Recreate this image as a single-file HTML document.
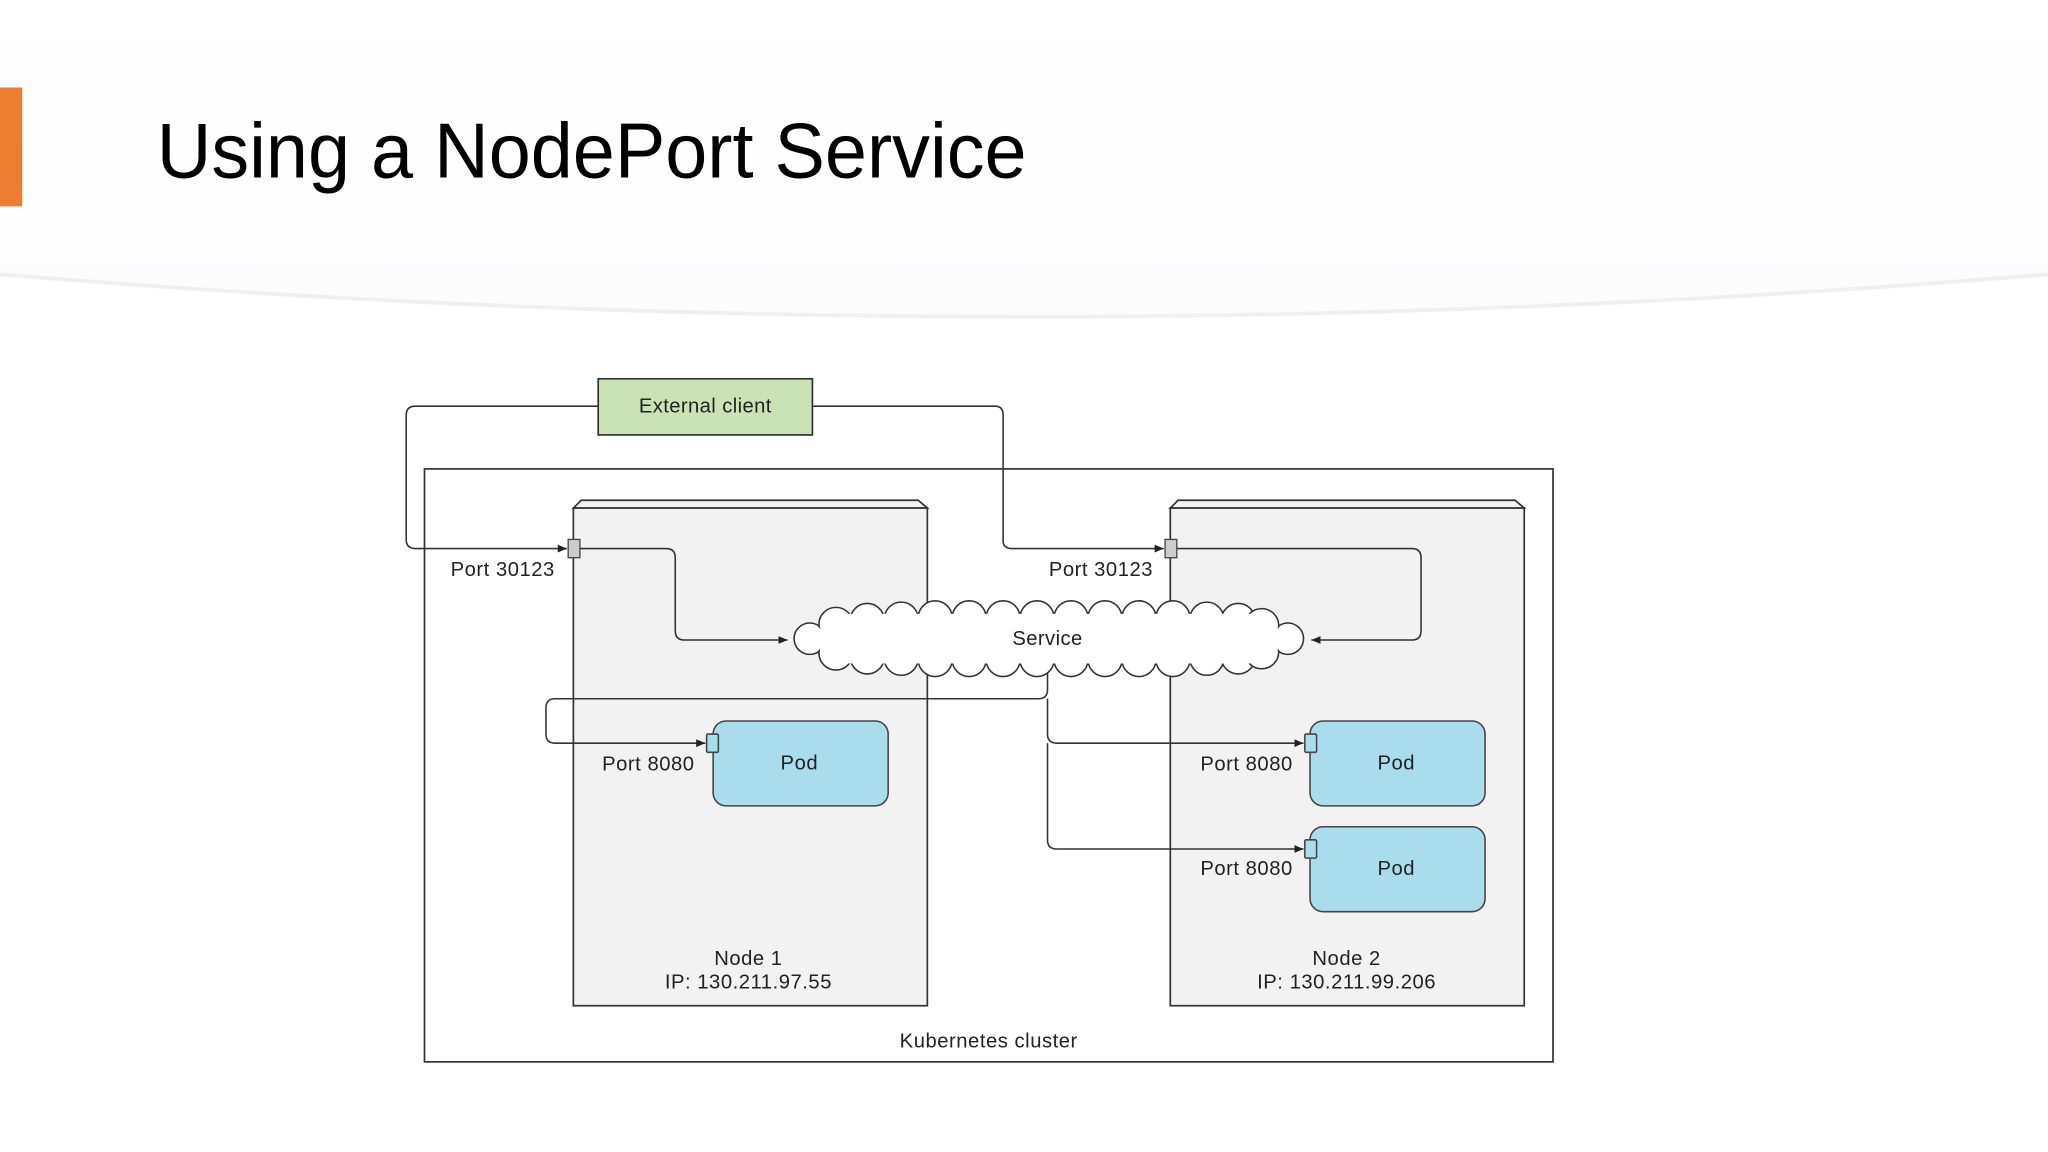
<!DOCTYPE html>
<html><head><meta charset="utf-8"><style>html,body{margin:0;padding:0;background:#fff}svg{display:block}</style></head>
<body>
<svg width="2048" height="1152" viewBox="0 0 1568 882" xmlns="http://www.w3.org/2000/svg" font-family="Liberation Sans, sans-serif">
<defs>
<marker id="a" markerWidth="8" markerHeight="8" refX="7" refY="3" orient="auto" markerUnits="userSpaceOnUse"><path d="M0,0 L7,3 L0,6 z" fill="#222"/></marker>
<linearGradient id="g" x1="0" y1="0" x2="0" y2="1"><stop offset="0" stop-color="#ffffff"/><stop offset="1" stop-color="#fcfcfd"/></linearGradient>
</defs>
<rect width="1568" height="882" fill="#fff"/>
<path d="M0,0 H1568 V210 Q784,275 0,210 Z" fill="url(#g)"/>
<path d="M0,210 Q784,275 1568,210" fill="none" stroke="#f0f0f2" stroke-width="3"/>
<rect x="0" y="67" width="17" height="91" fill="#ED7D31"/>
<text x="120" y="136" font-size="60" textLength="666" lengthAdjust="spacingAndGlyphs" fill="#000">Using a NodePort Service</text>

<rect x="325" y="359" width="864" height="454" fill="#fff" stroke="#333" stroke-width="1.3"/>
<g fill="#f2f2f3" stroke="#333" stroke-width="1.3">
<path d="M439,389 L445,383 L703,383 L710,389 Z"/>
<rect x="439" y="389" width="271" height="381"/>
<path d="M896,389 L902,383 L1160,383 L1167,389 Z"/>
<rect x="896" y="389" width="271" height="381"/>
</g>
<rect x="458" y="290" width="164" height="43" fill="#c9e3b6" stroke="#333" stroke-width="1.3"/>
<text x="540" y="316" font-size="15.5" text-anchor="middle" fill="#222" letter-spacing="0.3">External client</text>

<g fill="none" stroke="#333" stroke-width="1.2">
<path d="M458,311 H318 Q311,311 311,318 V413 Q311,420 318,420 H434" marker-end="url(#a)"/>
<path d="M622,311 H762 Q768,311 768,318 V414 Q768,420 775,420 H891" marker-end="url(#a)"/>
<path d="M444,420 H510 Q517,420 517,427 V483 Q517,490 524,490 H603" marker-end="url(#a)"/>
<path d="M901,420 H1081 Q1088,420 1088,427 V483 Q1088,490 1081,490 H1004" marker-end="url(#a)"/>
<path d="M802,512 V528 Q802,535 795,535 H425 Q418,535 418,542 V562 Q418,569 425,569 H540" marker-end="url(#a)"/>
<path d="M802,535 V562 Q802,569 809,569 H998" marker-end="url(#a)"/>
<path d="M802,569 V643 Q802,650 809,650 H998" marker-end="url(#a)"/>
</g>

<g fill="#fff" stroke="#333" stroke-width="1.2">
<circle cx="620" cy="489" r="12"/><circle cx="986" cy="489" r="12"/>
<circle cx="640" cy="478" r="13"/><circle cx="664" cy="475" r="13"/><circle cx="690" cy="474" r="13"/><circle cx="716" cy="473" r="13"/><circle cx="742" cy="473" r="13"/><circle cx="768" cy="473" r="13"/><circle cx="794" cy="473" r="13"/><circle cx="820" cy="473" r="13"/><circle cx="846" cy="473" r="13"/><circle cx="872" cy="473" r="13"/><circle cx="898" cy="473" r="13"/><circle cx="924" cy="474" r="13"/><circle cx="948" cy="475" r="13"/><circle cx="966" cy="479" r="13"/>
<circle cx="640" cy="500" r="13"/><circle cx="664" cy="503" r="13"/><circle cx="690" cy="504" r="13"/><circle cx="716" cy="505" r="13"/><circle cx="742" cy="505" r="13"/><circle cx="768" cy="505" r="13"/><circle cx="794" cy="505" r="13"/><circle cx="820" cy="505" r="13"/><circle cx="846" cy="505" r="13"/><circle cx="872" cy="505" r="13"/><circle cx="898" cy="505" r="13"/><circle cx="924" cy="504" r="13"/><circle cx="948" cy="503" r="13"/><circle cx="966" cy="499" r="13"/>
</g>
<g fill="#fff">
<circle cx="620" cy="489" r="11"/><circle cx="986" cy="489" r="11"/>
<ellipse cx="802" cy="489" rx="178" ry="19"/>
<rect x="634" y="470" width="338" height="38"/>
</g>
<text x="802" y="494" font-size="15.5" text-anchor="middle" fill="#222" letter-spacing="0.3">Service</text>

<g fill="#ccc" stroke="#444" stroke-width="1">
<rect x="435" y="413" width="9" height="14"/><rect x="892" y="413" width="9" height="14"/>
</g>
<g fill="#a9dcec" stroke="#444" stroke-width="1.2">
<rect x="546" y="552" width="134" height="65" rx="10"/>
<rect x="1003" y="552" width="134" height="65" rx="10"/>
<rect x="1003" y="633" width="134" height="65" rx="10"/>
<rect x="541" y="562" width="9" height="14" rx="1"/>
<rect x="999" y="562" width="9" height="14" rx="1"/>
<rect x="999" y="643" width="9" height="14" rx="1"/>
</g>
<g font-size="15.5" fill="#222" letter-spacing="0.4">
<text x="345" y="441">Port 30123</text>
<text x="803" y="441">Port 30123</text>
<text x="461" y="590">Port 8080</text>
<text x="919" y="590">Port 8080</text>
<text x="919" y="670">Port 8080</text>
<g text-anchor="middle">
<text x="612" y="589">Pod</text><text x="1069" y="589">Pod</text><text x="1069" y="670">Pod</text>
<text x="573" y="739">Node 1</text><text x="573" y="757">IP: 130.211.97.55</text>
<text x="1031" y="739">Node 2</text><text x="1031" y="757">IP: 130.211.99.206</text>
<text x="757" y="802">Kubernetes cluster</text>
</g></g>
</svg>
</body></html>
